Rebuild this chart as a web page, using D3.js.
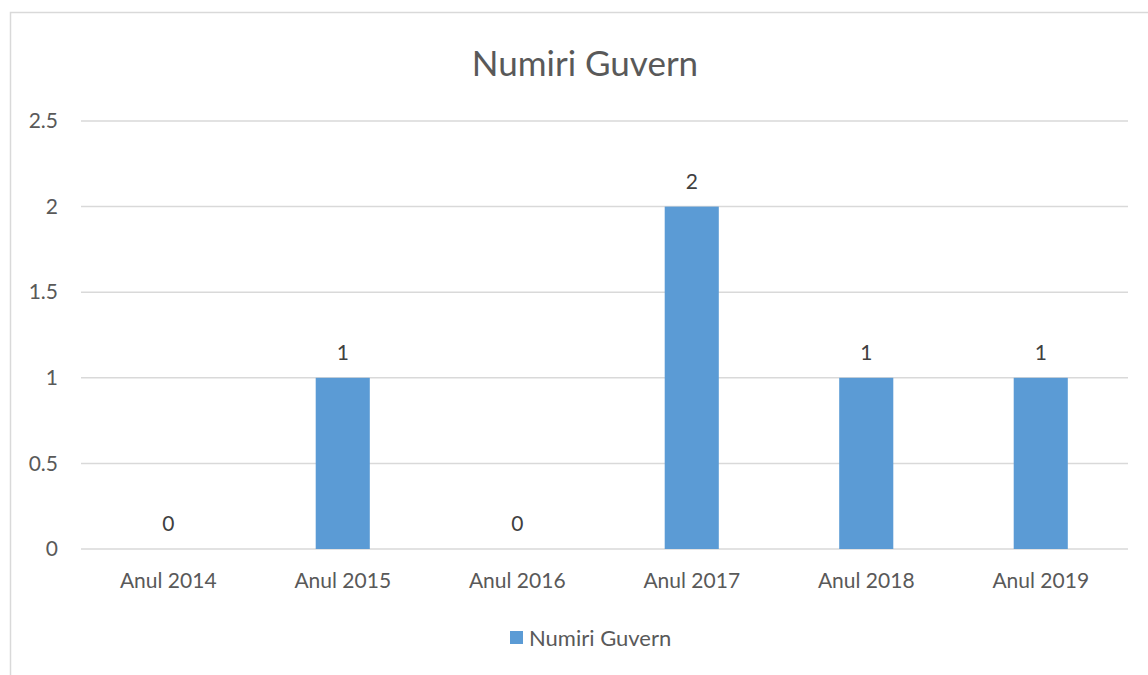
<!DOCTYPE html>
<html>
<head>
<meta charset="utf-8">
<script src="https://cdn.jsdelivr.net/npm/d3@7"></script>
<style>
  body { margin: 0; background: #fff; }
  svg { font-family: Lato, "Open Sans", sans-serif; }
</style>
</head>
<body>
<svg width="1148" height="675"></svg>
<script>
const categories = ['Anul 2014', 'Anul 2015', 'Anul 2016', 'Anul 2017', 'Anul 2018', 'Anul 2019']
const values = [0, 1, 0, 2, 1, 1]
const yTicks = [0, 0.5, 1, 1.5, 2, 2.5]
const seriesName = 'Numiri Guvern'

const svg = d3.select('svg')
const margin = {top: 121, right: 20, bottom: 126, left: 81}
const width = 1128 - margin.left
const height = 549 - margin.top
const textColor = '#595959'
const barColor = '#5b9bd5'

// chart border
svg.append('rect')
  .attr('x', 10.5).attr('y', 12.5)
  .attr('width', 1160).attr('height', 700)
  .attr('fill', 'none').attr('stroke', '#d9d9d9').attr('stroke-width', 1.5)

svg.append('text')
  .attr('x', 585).attr('y', 76)
  .attr('text-anchor', 'middle')
  .attr('fill', textColor)
  .attr('font-size', 35)
  .text(seriesName)

const g = svg.append('g')
  .attr('transform', 'translate(' + margin.left + ',' + margin.top + ')')

const x = d3.scaleBand().domain(categories).range([0, width]).paddingInner(0.69).paddingOuter(0.345)
const y = d3.scaleLinear().domain([0, 2.5]).range([height, 0])

// gridlines
g.selectAll('.grid')
  .data(yTicks)
  .enter()
  .append('line')
    .attr('x1', 0).attr('x2', width)
    .attr('y1', d => y(d)).attr('y2', d => y(d))
    .attr('stroke', '#d9d9d9').attr('stroke-width', 1.5)

// y axis labels
const yAxis = g.append('g')
  .call(d3.axisLeft(y).tickValues(yTicks).tickSize(0).tickPadding(23).tickFormat(d3.format('')))
  .attr('font-family', null).attr('font-size', 21)
yAxis.select('.domain').remove()
yAxis.selectAll('text').attr('fill', textColor)

// x axis labels
const xAxis = g.append('g')
  .attr('transform', 'translate(0,' + height + ')')
  .call(d3.axisBottom(x).tickSize(0).tickPadding(24))
  .attr('font-family', null).attr('font-size', 21)
xAxis.select('.domain').remove()
xAxis.selectAll('text').attr('fill', textColor)

// bars
g.selectAll('.bar')
  .data(values)
  .enter()
  .append('rect')
    .attr('class', 'bar')
    .attr('x', (d, i) => x(categories[i]))
    .attr('y', d => y(d))
    .attr('width', x.bandwidth())
    .attr('height', d => height - y(d))
    .attr('fill', barColor)

// data labels
g.selectAll('.label')
  .data(values)
  .enter()
  .append('text')
    .attr('x', (d, i) => x(categories[i]) + x.bandwidth() / 2)
    .attr('y', d => y(d) - 18)
    .attr('text-anchor', 'middle')
    .attr('fill', '#404040')
    .attr('font-size', 21)
    .text(d => d)

// legend
const legend = svg.append('g').attr('transform', 'translate(510,631)')
legend.append('rect').attr('width', 13).attr('height', 13).attr('fill', barColor)
legend.append('text')
  .attr('x', 19).attr('y', 15)
  .attr('fill', textColor)
  .attr('font-size', 22)
  .text(seriesName)
</script>
</body>
</html>
